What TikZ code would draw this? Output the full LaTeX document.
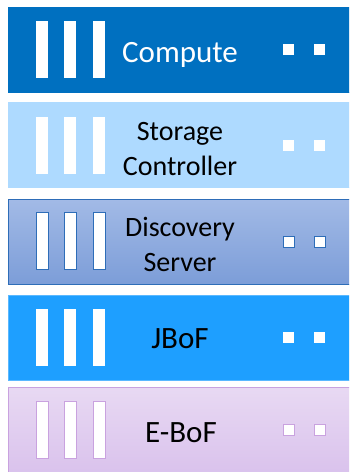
\documentclass[tikz,border=0pt]{standalone}
\usepackage{fontspec}
\setmainfont{Carlito}
\definecolor{cmpblue}{HTML}{0070C0}
\definecolor{stolight}{HTML}{AEDAFF}
\definecolor{dsctop}{HTML}{A2BAE6}
\definecolor{dscbot}{HTML}{7C9DD8}
\definecolor{dscline}{HTML}{2E6DB8}
\definecolor{jbof}{HTML}{1E9FFF}
\definecolor{jbofline}{HTML}{5AB8FF}
\definecolor{ebtop}{HTML}{E8D9F3}
\definecolor{ebbot}{HTML}{D9C1EC}
\definecolor{ebline}{HTML}{C9A2DF}
\tikzset{
  x=1pt, y=-1pt,
  slab/.style={draw, line width=1pt, minimum width=350pt, minimum height=85pt, anchor=north west, inner sep=0pt},
  bar/.style={fill=white, minimum width=12pt, minimum height=57pt, inner sep=0pt, anchor=north west},
  led/.style={fill=white, minimum width=11pt, minimum height=11pt, inner sep=0pt, anchor=north west},
  label/.style={font=\fontsize{28}{35}\selectfont, align=center, inner sep=0pt, anchor=base},
  biglabel/.style={label, font=\fontsize{31}{35}\selectfont}
}
\begin{document}
\begin{tikzpicture}
\useasboundingbox (0,0) rectangle (349,472);
\clip (0,0) rectangle (349,472);
% Compute
\node[slab, fill=cmpblue, draw=cmpblue] (s1) at (8,7) {};
\foreach \i/\x in {1/36,2/64,3/93} \node[bar] (s1b\i) at (\x,21) {};
\node[led] (s1l1) at (283,44) {};
\node[led] (s1l2) at (314,44) {};
\node[biglabel, text=white] (s1t) at (180,62) {Compute};
% Storage controller (anchor = baseline of the last line)
\node[slab, fill=stolight, draw=stolight] (s2) at (8,102) {};
\foreach \i/\x in {1/36,2/64,3/93} \node[bar] (s2b\i) at (\x,117) {};
\node[led] (s2l1) at (283,140) {};
\node[led] (s2l2) at (314,140) {};
\node[label] (s2t) at (180,175) {Storage\\Controller};
% Discovery server
\node[slab, top color=dsctop, bottom color=dscbot, draw=dscline] (s3) at (8,199) {};
\foreach \i/\x in {1/36,2/64,3/93} \node[bar, draw=dscline, line width=1pt] (s3b\i) at (\x,212) {};
\node[led, draw=dscline, line width=1pt] (s3l1) at (283,236) {};
\node[led, draw=dscline, line width=1pt] (s3l2) at (314,236) {};
\node[label] (s3t) at (180,271) {Discovery\\Server};
% JBoF
\node[slab, fill=jbof, draw=jbofline] (s4) at (8,295) {};
\foreach \i/\x in {1/36,2/64,3/93} \node[bar] (s4b\i) at (\x,309) {};
\node[led] (s4l1) at (283,332) {};
\node[led] (s4l2) at (314,332) {};
\node[biglabel] (s4t) at (180,348) {JBoF};
% E-BoF
\node[slab, top color=ebtop, bottom color=ebbot, draw=ebline, minimum height=90pt] (s5) at (8,387) {};
\foreach \i/\x in {1/36,2/64,3/93} \node[bar, draw=ebline, line width=1pt] (s5b\i) at (\x,401) {};
\node[led, draw=ebline, line width=0.8pt] (s5l1) at (283,424) {};
\node[led, draw=ebline, line width=0.8pt] (s5l2) at (314,424) {};
\node[biglabel] (s5t) at (181,442) {E-BoF};
\end{tikzpicture}
\end{document}
